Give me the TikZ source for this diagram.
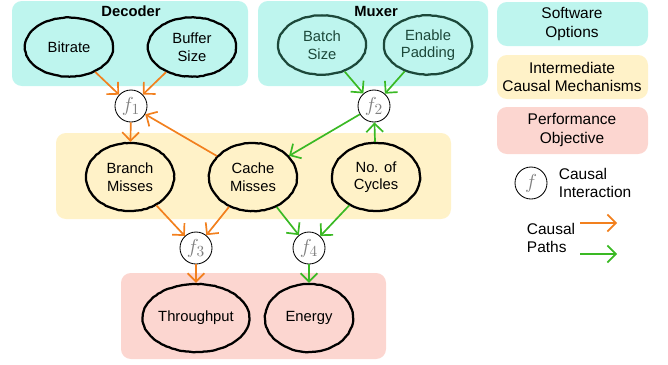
\documentclass[tikz,border=0pt]{standalone}
\usepackage{fontspec}
\setmainfont{Liberation Sans}
\usetikzlibrary{shapes.geometric,arrows.meta,positioning,decorations.pathmorphing}
\definecolor{optcyan}{RGB}{190,245,238}
\definecolor{midyellow}{RGB}{255,242,200}
\definecolor{perfpink}{RGB}{252,214,208}
\definecolor{pathorange}{RGB}{242,128,30}
\definecolor{pathgreen}{RGB}{58,185,36}
\definecolor{muxdark}{RGB}{28,72,58}

\begin{document}
\begin{tikzpicture}[
    x=0.025cm, y=-0.025cm,
    group/.style={fill=#1, rounded corners=7pt},
    var/.style={ellipse, draw=black, line width=1.6pt, minimum width=2.2cm, minimum height=1.7cm, inner sep=0pt, align=center, font=\fontsize{10.5}{12.5}\selectfont, decorate, decoration={random steps, segment length=2pt, amplitude=0.2pt}},
    opt/.style={var, minimum height=1.48cm},
    inter/.style={circle, draw=black, line width=0.6pt, fill=white, minimum size=0.8cm, inner sep=0pt, font=\fontsize{15}{15}\selectfont},
    legend/.style={align=center, font=\fontsize{11}{13}\selectfont},
    orangepath/.style={-{Straight Barb[length=6pt,width=12pt]}, line width=1.2pt, draw=pathorange},
    greenpath/.style={-{Straight Barb[length=6pt,width=12pt]}, line width=1.2pt, draw=pathgreen}
]
    \useasboundingbox (0,0) rectangle (668,364);

    % groups
    \fill[group=optcyan] (12,1) rectangle (248,86);
    \fill[group=optcyan] (258,1) rectangle (488,86);
    \fill[group=midyellow] (56,133) rectangle (451,219);
    \fill[group=perfpink] (121,273) rectangle (386,359);

    \node[font=\fontsize{10.5}{12.5}\selectfont\bfseries] (decoder) at (131,11) {Decoder};
    \node[font=\fontsize{10.5}{12.5}\selectfont\bfseries] (muxer) at (376,11) {Muxer};

    % software options
    \node[opt] (bitrate) at (69,47) {Bitrate};
    \node[opt] (buffer) at (192,47) {Buffer\\Size};
    \node[opt, draw=muxdark, text=muxdark] (batch) at (322,45) {Batch\\Size};
    \node[opt, draw=muxdark, text=muxdark] (padding) at (428,45) {Enable\\Padding};

    % intermediate mechanisms
    \node[var] (branch) at (130,177) {Branch\\Misses};
    \node[var] (cache) at (253,177) {Cache\\Misses};
    \node[var] (cycles) at (376,177) {No. of\\Cycles};

    % objectives
    \node[var] (throughput) at (196,318) {Throughput};
    \node[var] (energy) at (309,318) {Energy};

    % interactions
    \node[inter] (f1) at (131,106) {\color{gray}$f_1$};
    \node[inter] (f2) at (374,106) {\color{gray}$f_2$};
    \node[inter] (f3) at (196,248) {\color{gray}$f_3$};
    \node[inter] (f4) at (309,248) {\color{gray}$f_4$};

    \draw[orangepath] (bitrate) -- (f1);
    \draw[orangepath] (buffer) -- (f1);
    \draw[greenpath] (batch) -- (f2);
    \draw[greenpath] (padding) -- (f2);
    \draw[orangepath] (f1) -- (branch);
    \draw[orangepath] (cache) -- (f1);
    \draw[greenpath] (f2) -- (cache);
    \draw[greenpath] (cycles) -- (f2);
    \draw[orangepath] (branch) -- (f3);
    \draw[orangepath] (cache) -- (f3);
    \draw[greenpath] (cache) -- (f4);
    \draw[greenpath] (cycles) -- (f4);
    \draw[orangepath] (f3) -- (throughput);
    \draw[greenpath] (f4) -- (energy);

    % legend
    \fill[group=optcyan] (497,2) rectangle (648,46);
    \fill[group=midyellow] (497,55) rectangle (648,99);
    \fill[group=perfpink] (497,107) rectangle (648,154);
    \node[legend] (lsoft) at (572,24) {Software\\Options};
    \node[legend] (lmid) at (572,77) {Intermediate\\Causal Mechanisms};
    \node[legend] (lperf) at (572,130) {Performance\\Objective};
    \node[inter] (lf) at (531,183) {\color{gray}$f$};
    \node[legend, align=left, anchor=west] (linter) at (554,183) {Causal\\Interaction};
    \node[legend, align=left, anchor=west] (lpaths) at (522,238) {Causal\\Paths};
    \coordinate (oa) at (580,223);
    \coordinate (ob) at (617,223);
    \coordinate (ga) at (580,254);
    \coordinate (gb) at (617,254);
    \draw[orangepath] (oa) -- (ob);
    \draw[greenpath] (ga) -- (gb);
\end{tikzpicture}
\end{document}
